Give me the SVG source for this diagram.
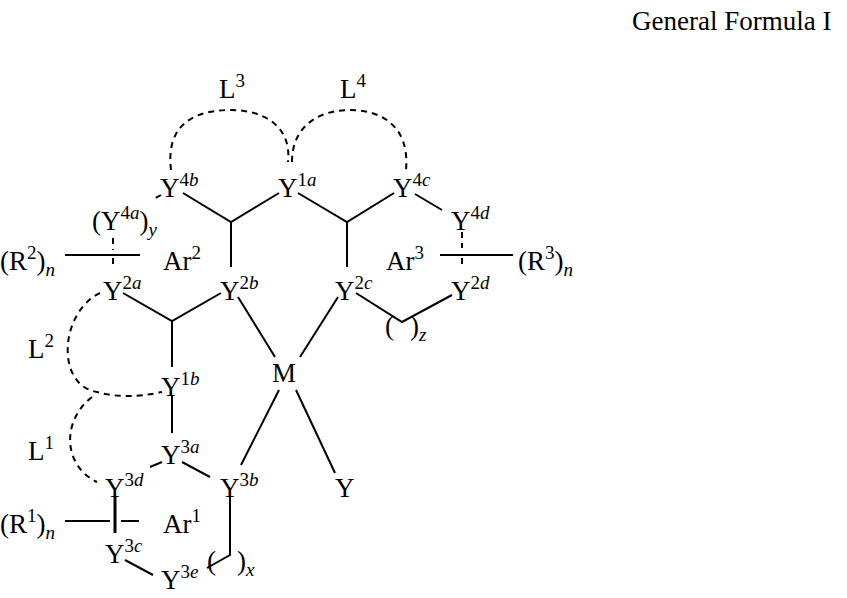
<svg xmlns="http://www.w3.org/2000/svg" width="847" height="598" viewBox="0 0 847 598">
<style>
text{font-family:"Liberation Serif",serif;font-size:27px;fill:#000}
.s{font-size:19px}
.i{font-style:italic}
.ln{stroke:#000;stroke-width:2;fill:none}
.d{stroke:#000;stroke-width:2;fill:none;stroke-dasharray:6,5}
</style>
<rect width="847" height="598" fill="#fff"/>
<text x="632" y="30">General Formula I</text>
<g id="connectors">
<path class="ln" d="M183,193 L231,222 L279,193 M231,222 V267"/>
<path class="ln" d="M298,193 L347,222 L394,193 M347,222 V267"/>
<path class="ln" d="M415,194 L442,210"/>
<path class="d" d="M161,195 L152,200 M113,238 V250 M113,258 V268 M462,232 V248 M462,258 V268"/>
<path class="ln" d="M65,255 H140 M440,255 H513"/>
<path class="ln" d="M123,293 L172,321 L221,293 M172,321 V367"/>
<path class="ln" d="M238,297 L275,357 M338,297 L300,357"/>
<path class="ln" d="M356,293 L402,322 L452,295"/>
<path class="ln" d="M172,395 V433"/>
<path class="ln" d="M279,390 L241,465 M296,390 L335,473"/>
<path class="ln" d="M162,462 L150,467 M182,462 L210,477"/>
<path class="ln" style="stroke-width:3" d="M115,497 V533"/>
<path class="ln" d="M65,521 H110 M121,521 H139"/>
<path class="ln" d="M230,497 V555 L207,568"/>
<path class="ln" d="M125,560 L153,575"/>
<path class="d" d="M171,170 C165,120 200,110 231,110 C262,110 292,125 288,162"/>
<path class="d" d="M292,162 C292,125 320,110 350,110 C380,110 410,125 406,170"/>
<path class="d" d="M100,293 C60,312 55,385 97,392 Q125,400 162,392"/>
<path class="d" d="M92,397 C62,420 62,465 97,482"/>
</g>
<g id="labels">
<text x="219" y="98">L<tspan class="s" dy="-11">3</tspan></text>
<text x="340" y="98">L<tspan class="s" dy="-11">4</tspan></text>
<text x="160" y="197">Y<tspan class="s" dy="-11">4<tspan class="i">b</tspan></tspan></text>
<text x="278" y="197">Y<tspan class="s" dy="-11">1<tspan class="i">a</tspan></tspan></text>
<text x="393" y="197">Y<tspan class="s" dy="-11">4<tspan class="i">c</tspan></tspan></text>
<text x="451" y="230">Y<tspan class="s" dy="-11">4<tspan class="i">d</tspan></tspan></text>
<text x="92" y="230">(Y<tspan class="s" dy="-11">4<tspan class="i">a</tspan></tspan><tspan dy="11">)</tspan><tspan class="s i" dy="6">y</tspan></text>
<text x="0" y="270">(R<tspan class="s" dy="-11">2</tspan><tspan dy="11">)</tspan><tspan class="s i" dy="6">n</tspan></text>
<text x="163" y="270">Ar<tspan class="s" dy="-11">2</tspan></text>
<text x="386" y="270">Ar<tspan class="s" dy="-11">3</tspan></text>
<text x="518" y="270">(R<tspan class="s" dy="-11">3</tspan><tspan dy="11">)</tspan><tspan class="s i" dy="6">n</tspan></text>
<text x="103" y="300">Y<tspan class="s" dy="-11">2<tspan class="i">a</tspan></tspan></text>
<text x="220" y="300">Y<tspan class="s" dy="-11">2<tspan class="i">b</tspan></tspan></text>
<text x="335" y="300">Y<tspan class="s" dy="-11">2<tspan class="i">c</tspan></tspan></text>
<text x="451" y="300">Y<tspan class="s" dy="-11">2<tspan class="i">d</tspan></tspan></text>
<text x="385" y="335">(</text><text x="410" y="335">)<tspan class="s i" dy="6">z</tspan></text>
<text x="28" y="358">L<tspan class="s" dy="-11">2</tspan></text>
<text x="272" y="382">M</text>
<text x="161" y="396">Y<tspan class="s" dy="-11">1<tspan class="i">b</tspan></tspan></text>
<text x="28" y="460">L<tspan class="s" dy="-11">1</tspan></text>
<text x="161" y="464">Y<tspan class="s" dy="-11">3<tspan class="i">a</tspan></tspan></text>
<text x="105" y="497">Y<tspan class="s" dy="-11">3<tspan class="i">d</tspan></tspan></text>
<text x="220" y="497">Y<tspan class="s" dy="-11">3<tspan class="i">b</tspan></tspan></text>
<text x="335" y="497">Y</text>
<text x="0" y="533">(R<tspan class="s" dy="-11">1</tspan><tspan dy="11">)</tspan><tspan class="s i" dy="6">n</tspan></text>
<text x="163" y="533">Ar<tspan class="s" dy="-11">1</tspan></text>
<text x="105" y="563">Y<tspan class="s" dy="-11">3<tspan class="i">c</tspan></tspan></text>
<text x="207" y="570">(</text><text x="237" y="570">)<tspan class="s i" dy="6">x</tspan></text>
<text x="161" y="589">Y<tspan class="s" dy="-11">3<tspan class="i">e</tspan></tspan></text>
</g>
</svg>
